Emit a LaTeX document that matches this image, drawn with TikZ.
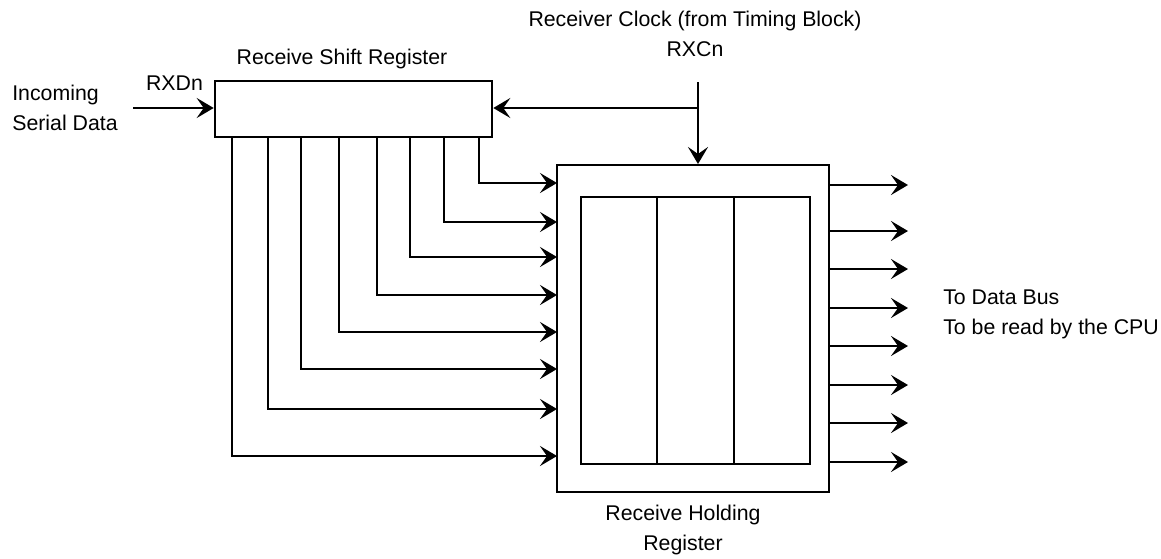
\documentclass[tikz,border=0pt]{standalone}
\usepackage{fontspec}
\setmainfont{Liberation Sans}
\usetikzlibrary{arrows.meta,calc}
\begin{document}
\begin{tikzpicture}[x=1pt,y=-1pt,
  line width=2.6pt,
  box/.style={draw,line width=2.6pt,rectangle,inner sep=0pt},
  arr/.style={-{Stealth[length=17pt,width=20pt,inset=7pt]}},
  lbl/.style={inner sep=0pt,font=\fontsize{21.3}{30}\selectfont}
]
\useasboundingbox (0,0) rectangle (1161,558);
% shift register
\node[box,minimum width=277pt,minimum height=56pt] (sr) at (353.5,109) {};
% holding register
\node[box,minimum width=272pt,minimum height=327pt] (hr) at (693,328.5) {};
\node[box,minimum width=76pt,minimum height=267pt] (c1) at (619,330.5) {};
\node[box,minimum width=77pt,minimum height=267pt] (c2) at (695.5,330.5) {};
\node[box,minimum width=76pt,minimum height=267pt] (c3) at (772,330.5) {};
% labels
\node[lbl,align=left,anchor=west] (inc) at (11,108) {Incoming\\Serial Data};
\node[lbl] (rxd) at (174.5,83) {RXDn};
\node[lbl] (srl) at (342,59) {Receive Shift Register};
\node[lbl,align=center] (clkl) at (695,34) {Receiver Clock (from Timing Block)\\RXCn};
\node[lbl,align=left,anchor=west] (bus) at (942,314) {To Data Bus\\To be read by the CPU};
\node[lbl,align=center] (hrl) at (683,530) {Receive Holding\\Register};
% input
\coordinate (in) at (133,108);
\draw[arr] (in) -- (sr.west |- in);
% clock
\coordinate (clk) at (698,82);
\coordinate (cj) at (698,108);
\coordinate (ct) at (698,164);
\draw[arr] (clk) -- (ct);
\draw[arr] (cj) -- (sr.east |- cj);
% bits from shift register to holding register
\foreach \i/\x/\y in {1/232/456,2/268/409,3/301/369,4/339/332,5/377/295,6/410/257,7/444/222,8/479/183}{
  \coordinate (s\i) at (\x,137);
  \coordinate (t\i) at (557,\y);
  \draw[arr,line cap=rect] (s\i) |- (t\i);
}
% outputs
\foreach \i/\y in {1/185,2/231,3/269,4/308,5/346,6/385,7/423,8/462}{
  \coordinate (o\i) at (829,\y);
  \coordinate (e\i) at (908,\y);
  \draw[arr] (o\i) -- (e\i);
}
\end{tikzpicture}
\end{document}
